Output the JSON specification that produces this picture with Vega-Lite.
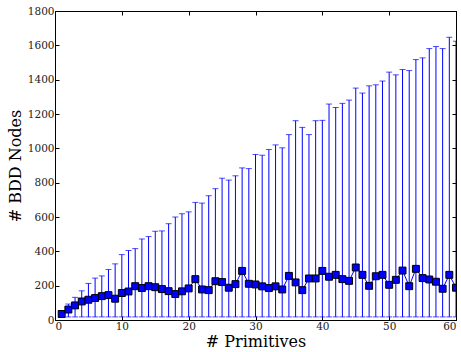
{
  "$schema": "https://vega.github.io/schema/vega-lite/v6.json",
  "autosize": "none",
  "width": 401,
  "height": 309,
  "padding": {"left": 55, "top": 11, "right": 5, "bottom": 32},
  "background": "white",
  "view": {"stroke": "black", "strokeWidth": 1},
  "config": {
    "font": "DejaVu Serif",
    "axis": {
      "grid": false,
      "domainColor": "black",
      "tickColor": "black",
      "tickSize": -4,
      "labelPadding": 5,
      "format": "d",
      "labelFont": "DejaVu Serif",
      "labelFontSize": 10.5,
      "labelColor": "#222222",
      "titleFont": "DejaVu Serif",
      "titleFontSize": 16,
      "titleFontWeight": 400,
      "titleColor": "black"
    }
  },
  "data": {
    "values": [
      {"n":1,"mean":35,"lo":20,"hi":54},
      {"n":2,"mean":61,"lo":18,"hi":93},
      {"n":3,"mean":85,"lo":18,"hi":132},
      {"n":4,"mean":108,"lo":18,"hi":170},
      {"n":5,"mean":118,"lo":18,"hi":213},
      {"n":6,"mean":128,"lo":18,"hi":244},
      {"n":7,"mean":139,"lo":18,"hi":257},
      {"n":8,"mean":145,"lo":18,"hi":294},
      {"n":9,"mean":124,"lo":18,"hi":327},
      {"n":10,"mean":157,"lo":18,"hi":381},
      {"n":11,"mean":166,"lo":18,"hi":405},
      {"n":12,"mean":197,"lo":18,"hi":416},
      {"n":13,"mean":186,"lo":18,"hi":472},
      {"n":14,"mean":197,"lo":18,"hi":486},
      {"n":15,"mean":191,"lo":18,"hi":517},
      {"n":16,"mean":180,"lo":18,"hi":519},
      {"n":17,"mean":168,"lo":18,"hi":561},
      {"n":18,"mean":151,"lo":18,"hi":600},
      {"n":19,"mean":167,"lo":18,"hi":619},
      {"n":20,"mean":184,"lo":18,"hi":630},
      {"n":21,"mean":238,"lo":18,"hi":685},
      {"n":22,"mean":178,"lo":18,"hi":681},
      {"n":23,"mean":174,"lo":18,"hi":724},
      {"n":24,"mean":226,"lo":18,"hi":765},
      {"n":25,"mean":221,"lo":18,"hi":826},
      {"n":26,"mean":188,"lo":18,"hi":815},
      {"n":27,"mean":209,"lo":18,"hi":840},
      {"n":28,"mean":286,"lo":18,"hi":886},
      {"n":29,"mean":211,"lo":18,"hi":882},
      {"n":30,"mean":207,"lo":18,"hi":964},
      {"n":31,"mean":196,"lo":18,"hi":960},
      {"n":32,"mean":186,"lo":18,"hi":993},
      {"n":33,"mean":196,"lo":18,"hi":1020},
      {"n":34,"mean":178,"lo":18,"hi":1003},
      {"n":35,"mean":257,"lo":18,"hi":1080},
      {"n":36,"mean":219,"lo":18,"hi":1161},
      {"n":37,"mean":174,"lo":18,"hi":1122},
      {"n":38,"mean":242,"lo":18,"hi":1080},
      {"n":39,"mean":242,"lo":18,"hi":1161},
      {"n":40,"mean":286,"lo":18,"hi":1163},
      {"n":41,"mean":252,"lo":18,"hi":1258},
      {"n":42,"mean":263,"lo":18,"hi":1238},
      {"n":43,"mean":238,"lo":18,"hi":1262},
      {"n":44,"mean":228,"lo":18,"hi":1281},
      {"n":45,"mean":306,"lo":18,"hi":1351},
      {"n":46,"mean":263,"lo":18,"hi":1322},
      {"n":47,"mean":199,"lo":18,"hi":1364},
      {"n":48,"mean":255,"lo":18,"hi":1370},
      {"n":49,"mean":263,"lo":18,"hi":1392},
      {"n":50,"mean":205,"lo":18,"hi":1444},
      {"n":51,"mean":234,"lo":18,"hi":1428},
      {"n":52,"mean":288,"lo":18,"hi":1459},
      {"n":53,"mean":197,"lo":18,"hi":1453},
      {"n":54,"mean":298,"lo":18,"hi":1517},
      {"n":55,"mean":244,"lo":18,"hi":1527},
      {"n":56,"mean":236,"lo":18,"hi":1581},
      {"n":57,"mean":223,"lo":18,"hi":1593},
      {"n":58,"mean":182,"lo":18,"hi":1581},
      {"n":59,"mean":263,"lo":18,"hi":1647},
      {"n":60,"mean":188,"lo":18,"hi":1624}
    ]
  },
  "layer": [
    {
      "mark": {"type": "rule", "color": "#0000ff", "strokeWidth": 1, "clip": true},
      "encoding": {
        "x": {"field": "n", "type": "quantitative", "scale": {"domain": [0, 60], "nice": false},
              "axis": {"orient": "bottom", "values": [0,10,20,30,40,50,60], "title": "# Primitives", "titlePadding": 2, "titleFontWeight": 400}},
        "y": {"field": "lo", "type": "quantitative", "scale": {"domain": [0, 1800], "nice": false},
              "axis": {"orient": "left", "values": [0,200,400,600,800,1000,1200,1400,1600,1800], "title": "# BDD Nodes", "titlePadding": 4, "titleFontWeight": 400}},
        "y2": {"field": "hi"}
      }
    },
    {
      "mark": {"type": "tick", "orient": "horizontal", "color": "#0000ff", "size": 6, "thickness": 1, "clip": true},
      "encoding": {
        "x": {"field": "n", "type": "quantitative", "axis": null},
        "y": {"field": "hi", "type": "quantitative", "axis": null}
      }
    },
    {
      "mark": {"type": "tick", "orient": "horizontal", "color": "#0000ff", "size": 6, "thickness": 1, "clip": true},
      "encoding": {
        "x": {"field": "n", "type": "quantitative", "axis": null},
        "y": {"field": "lo", "type": "quantitative", "axis": null}
      }
    },
    {
      "mark": {"type": "line", "color": "#0000ff", "strokeWidth": 1, "clip": true},
      "encoding": {
        "x": {"field": "n", "type": "quantitative", "axis": null},
        "y": {"field": "mean", "type": "quantitative", "axis": null}
      }
    },
    {
      "mark": {"type": "point", "shape": "square", "filled": true, "fill": "#0000ff", "stroke": "black", "strokeWidth": 1, "size": 48, "opacity": 1, "clip": true},
      "encoding": {
        "x": {"field": "n", "type": "quantitative", "axis": null},
        "y": {"field": "mean", "type": "quantitative", "axis": null}
      }
    },
    {
      "mark": {"type": "rule", "opacity": 0},
      "encoding": {
        "x": {"field": "n", "type": "quantitative",
              "axis": {"orient": "top", "values": [0,10,20,30,40,50,60], "labels": false, "title": null}},
        "y": {"field": "mean", "type": "quantitative",
              "axis": {"orient": "right", "values": [0,200,400,600,800,1000,1200,1400,1600,1800], "labels": false, "title": null}}
      }
    }
  ],
  "resolve": {"axis": {"x": "independent", "y": "independent"}}
}
